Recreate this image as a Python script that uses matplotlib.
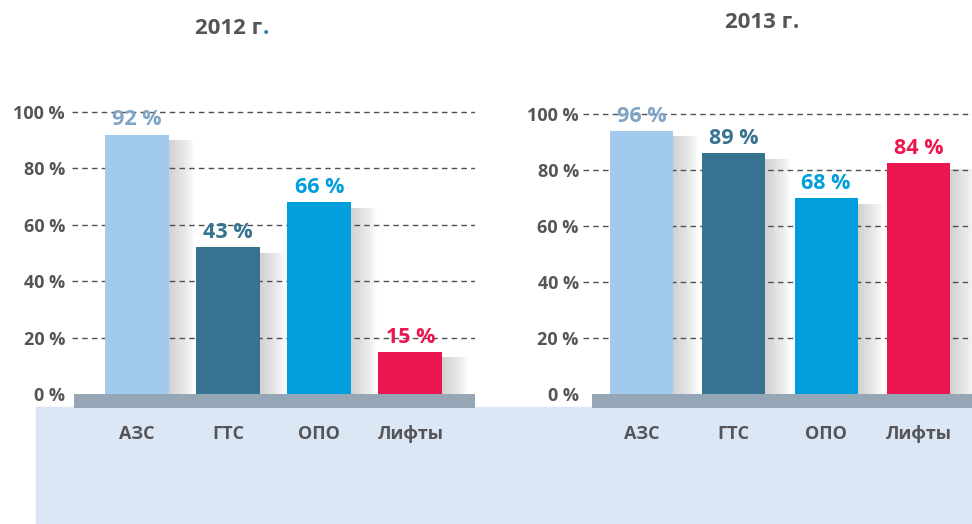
import matplotlib.pyplot as plt
from matplotlib.patches import Rectangle

plt.rcParams['font.family'] = ['Open Sans', 'DejaVu Sans']
plt.rcParams['font.weight'] = 'bold'

# data
categories = ["АЗС", "ГТС", "ОПО", "Лифты"]
years = ["2012 г.", "2013 г."]
bars_2012 = [92, 52, 68, 15]          # drawn bar heights
bars_2013 = [94, 86, 70, 82.5]
labels_2012 = ["92 %", "43 %", "66 %", "15 %"]   # printed values
labels_2013 = ["96 %", "89 %", "68 %", "84 %"]
yticks = [0, 20, 40, 60, 80, 100]

BAR_COLORS = ["#A1CAEC", "#367391", "#009EDD", "#EC174F"]
LABEL_COLORS = ["#7FA4C4", "#367391", "#009EDD", "#EC174F"]
DOT_COLORS = ["#2F7FB0", "#555559"]
GREY = "#555559"
BASE = "#95A6B6"
PANEL = "#DBE7F5"

W, H = 972, 524
fig = plt.figure(figsize=(W / 100, H / 100), dpi=100)
fig.patch.set_facecolor("white")

# light blue panel under the charts
fig.patches.append(Rectangle((36 / W, 0), 1 - 36 / W, (H - 407) / H,
                             transform=fig.transFigure, color=PANEL, zorder=-1))


def pxAxes(x0, y0, x1, y1):
    ax = fig.add_axes([x0 / W, 1 - y1 / H, (x1 - x0) / W, (y1 - y0) / H])
    ax.set_facecolor("none")
    ax.set_zorder(1)
    return ax


def drawPanel(ax, heights, labels, xlim, ylim, baseStart, tickPad, width):
    ax.set_xlim(xlim)
    ax.set_ylim(ylim)
    for s in ax.spines.values():
        s.set_visible(False)

    ax.set_yticks(yticks)
    ax.set_yticklabels([f"{v} %" for v in yticks])
    ax.tick_params(axis="y", length=0, pad=tickPad, labelsize=13, labelcolor=GREY)
    ax.set_xticks(range(len(categories)))
    ax.set_xticklabels(categories)
    ax.tick_params(axis="x", length=0, pad=12, labelsize=13, labelcolor=GREY)

    for v in yticks[1:]:
        ax.axhline(v, color="#505050", lw=1.0, ls=(0, (4, 3)), zorder=1)

    # soft shadow on the right of each bar
    for i, h in enumerate(heights):
        for k in range(20):
            ax.add_patch(Rectangle((i + width / 2, 0), 0.28 * (k + 1) / 20, h - 2,
                                   color="#707070", alpha=0.014, lw=0, zorder=2))

    ax.bar(range(len(heights)), heights, width=width, color=BAR_COLORS, zorder=3)

    for i, (h, lab) in enumerate(zip(heights, labels)):
        ax.annotate(lab, (i, h), xytext=(0, 3), textcoords="offset points",
                    ha="center", va="bottom", fontsize=15.5, color=LABEL_COLORS[i], zorder=4)

    ax.axhspan(ylim[0], 0, xmin=baseStart, xmax=1, color=BASE, zorder=5, lw=0)


axL = pxAxes(72, 100, 475, 408)
drawPanel(axL, bars_2012, labels_2012, (-0.714, 3.71), (-4.96, 104.26), 0.005, 5, 0.70)

axR = pxAxes(583, 100, 972, 408)
drawPanel(axR, bars_2013, labels_2013, (-0.634, 3.58), (-5.0, 105.0), 0.023, 3, 0.68)

# year titles, the trailing dot may have its own colour
for (xc, yc), year, dotColor in zip([(229, 28), (759, 22)], years, DOT_COLORS):
    t = fig.text(xc / W, 1 - yc / H, year[:-1], ha="center", va="center",
                 fontsize=16, color=GREY)
    axL.annotate(year[-1], xy=(1, 0), xycoords=t, ha="left", va="bottom",
                 fontsize=16, color=dotColor, annotation_clip=False)

fig.savefig("out.png", dpi=100)
